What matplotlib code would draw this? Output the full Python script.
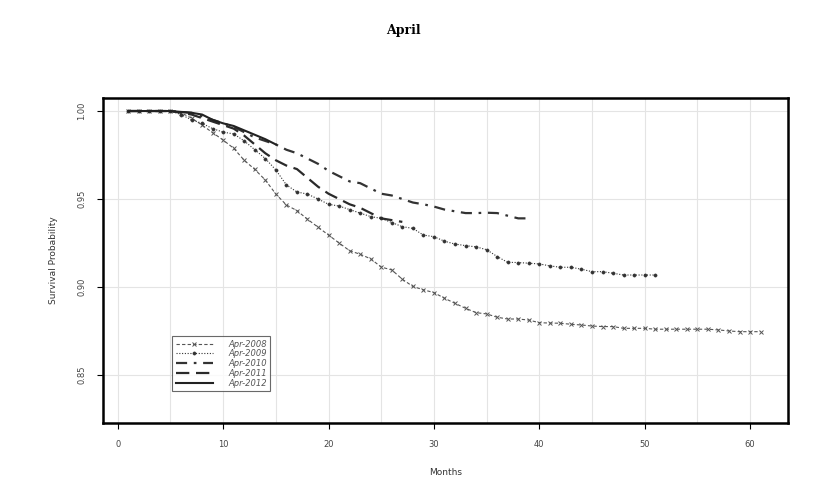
import numpy as np
import matplotlib.pyplot as plt
from matplotlib.ticker import FixedLocator

# Survival probability by month since origination, one series per cohort
surv_2008 = [1.0, 1.0, 1.0, 1.0, 1.0, 0.999, 0.996, 0.992, 0.9877, 0.9835,
             0.9788, 0.972, 0.9668, 0.9608, 0.9528, 0.9466, 0.9434, 0.9385, 0.934, 0.9295,
             0.925, 0.9206, 0.9186, 0.916, 0.9113, 0.9097, 0.9044, 0.9003, 0.8984, 0.8968,
             0.8936, 0.8907, 0.8879, 0.8854, 0.8847, 0.8828, 0.8818, 0.8818, 0.8812, 0.8797,
             0.8795, 0.8794, 0.8788, 0.8784, 0.8778, 0.8775, 0.8775, 0.8765, 0.8765, 0.8765,
             0.876, 0.876, 0.876, 0.876, 0.876, 0.876, 0.8756, 0.875, 0.8746, 0.8746,
             0.8746]
surv_2009 = [1.0, 1.0, 1.0, 1.0, 1.0, 0.998, 0.995, 0.993, 0.990, 0.988,
             0.987, 0.983, 0.978, 0.973, 0.9665, 0.958, 0.954, 0.9528, 0.950, 0.947,
             0.946, 0.944, 0.942, 0.940, 0.939, 0.9366, 0.9343, 0.9333, 0.9295, 0.9286,
             0.926, 0.9244, 0.9235, 0.9228, 0.9212, 0.9173, 0.914, 0.9139, 0.9135, 0.9131,
             0.912, 0.9112, 0.9112, 0.9101, 0.9087, 0.9087, 0.9078, 0.9068, 0.9068, 0.9068,
             0.9068]
surv_2010 = [1.0, 1.0, 1.0, 1.0, 1.0, 0.9995, 0.999, 0.997, 0.995, 0.993,
             0.991, 0.988, 0.985, 0.983, 0.981, 0.978, 0.976, 0.973, 0.970, 0.966,
             0.963, 0.960, 0.959, 0.956, 0.953, 0.952, 0.950, 0.948, 0.947, 0.9457,
             0.944, 0.943, 0.942, 0.942, 0.9422, 0.942, 0.9405, 0.939, 0.939]
surv_2011 = [1.0, 1.0, 1.0, 1.0, 1.0, 0.999, 0.998, 0.996, 0.994, 0.992,
             0.990, 0.986, 0.981, 0.976, 0.972, 0.969, 0.967, 0.962, 0.957, 0.953,
             0.950, 0.947, 0.945, 0.942, 0.939, 0.938, 0.937]
surv_2012 = [1.0, 1.0, 1.0, 1.0, 1.0, 0.9995, 0.999, 0.998, 0.995, 0.993,
             0.9915, 0.989, 0.9865, 0.984, 0.981]

labels = ['Apr-2008', 'Apr-2009', 'Apr-2010', 'Apr-2011', 'Apr-2012']
x_ticks = [0, 10, 20, 30, 40, 50, 60]
y_ticks = [0.85, 0.90, 0.95, 1.00]


def months(series):
    return np.arange(1, len(series) + 1)


fig = plt.figure(figsize=(8.23, 4.93), dpi=100)
ax = fig.add_axes([0.1252, 0.142, 0.9575 - 0.1252, 0.8012 - 0.142])

# light grid every 5 months and every 0.05, drawn under the curves
for gx in np.arange(0, 65, 5):
    ax.axvline(gx, color='#e4e4e4', linewidth=0.8, zorder=0)
for gy in y_ticks:
    ax.axhline(gy, color='#e4e4e4', linewidth=0.8, zorder=0)

ax.plot(months(surv_2008), surv_2008, color='#555555', linestyle=(0, (3, 2)),
        linewidth=0.8, marker='x', markersize=3.5, markeredgewidth=0.7,
        label=labels[0])
ax.plot(months(surv_2009), surv_2009, color='#333333', linestyle=(0, (1, 1.5)),
        linewidth=0.8, marker='o', markersize=2.3, markeredgewidth=0.4,
        label=labels[1])
ax.plot(months(surv_2010), surv_2010, color='#333333', linestyle=(0, (5, 3, 1.2, 3)),
        linewidth=1.6, label=labels[2])
ax.plot(months(surv_2011), surv_2011, color='#2a2a2a', linestyle=(0, (6, 3)),
        linewidth=1.6, label=labels[3])
ax.plot(months(surv_2012), surv_2012, color='#222222', linestyle='-',
        linewidth=1.5, label=labels[4])

ax.set_xlim(-1.4, 63.6)
ax.set_ylim(0.8227, 1.0074)
ax.set_xticks(x_ticks)
ax.set_yticks(y_ticks)
ax.set_xticklabels([str(t) for t in x_ticks])
ax.set_yticklabels(['%.2f' % t for t in y_ticks], rotation=90, va='center')
ax.tick_params(which='major', labelsize=6, labelcolor='#444444', length=4,
               width=0.8, pad=8)
for s in ax.spines.values():
    s.set_linewidth(1.8)
    s.set_color('black')

ax.set_xlabel('Months', fontsize=6.5, color='#333333', labelpad=14)
ax.set_ylabel('Survival Probability', fontsize=6.5, color='#333333', labelpad=14)

leg = ax.legend(loc='lower left', bbox_to_anchor=(0.095, 0.085),
                frameon=True, fancybox=False, edgecolor='#444444',
                handlelength=4.5, labelspacing=0.1, borderpad=0.4,
                handletextpad=1.8, prop={'style': 'italic', 'size': 6})
leg.get_frame().set_linewidth(0.8)
for t in leg.get_texts():
    t.set_color('#555555')

fig.text(0.49, 0.939, 'April', ha='center', va='center', fontsize=9,
         fontweight='bold', family='DejaVu Serif')

fig.savefig('out.png', dpi=100)
